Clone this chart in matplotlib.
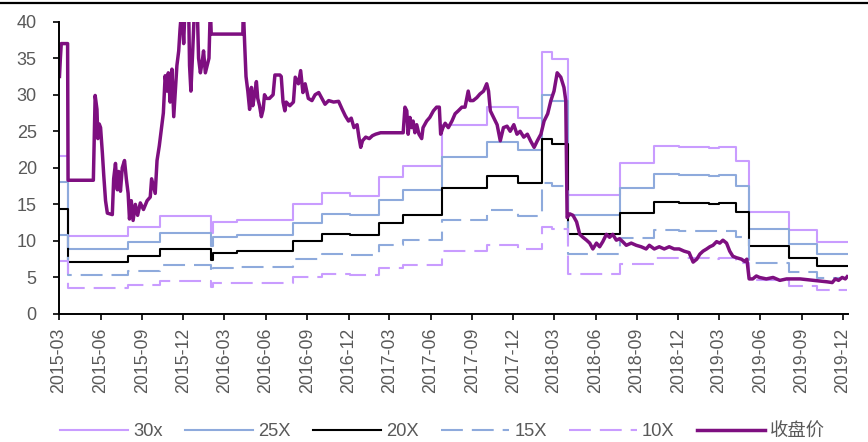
import numpy as np
import pandas as pd
import matplotlib
matplotlib.use("Agg")
import matplotlib.pyplot as plt
import matplotlib.dates as mdates
from matplotlib.lines import Line2D

plt.rcParams['font.family'] = ['Liberation Sans', 'Noto Sans CJK SC', 'DejaVu Sans']

# PE band steps (start date of each level, last date closes the final step)
band_dates = ['2015-03-01', '2015-03-21', '2015-08-01', '2015-10-11', '2016-02-01',
              '2016-02-05', '2016-03-28', '2016-08-01', '2016-10-04', '2016-12-05',
              '2017-02-06', '2017-04-01', '2017-06-25', '2017-10-03', '2017-12-12',
              '2018-02-02', '2018-02-24', '2018-04-01', '2018-07-26', '2018-10-08',
              '2018-12-02', '2019-02-07', '2019-03-01', '2019-04-07', '2019-05-06',
              '2019-08-03', '2019-10-05', '2019-12-10']
pe30 = [21.6, 10.65, 11.85, 13.35, 11.1, 12.6, 12.9, 15.0, 16.5, 16.2, 18.75, 20.25, 25.8,
        28.35, 26.85, 35.85, 34.95, 16.35, 20.7, 22.95, 22.8, 22.65, 22.8, 21.0, 13.95,
        11.55, 9.9]
pe25 = [18.0, 8.9, 9.9, 11.1, 9.25, 10.5, 10.75, 12.5, 13.75, 13.5, 15.6, 16.9, 21.5, 23.6,
        22.4, 29.9, 29.1, 13.6, 17.25, 19.1, 19.0, 18.9, 19.0, 17.5, 11.6, 9.6, 8.25]
pe20 = [14.4, 7.1, 7.9, 8.9, 7.4, 8.4, 8.6, 10.0, 11.0, 10.8, 12.5, 13.5, 17.2, 18.9, 17.9,
        23.9, 23.3, 10.9, 13.8, 15.3, 15.2, 15.1, 15.2, 14.0, 9.3, 7.7, 6.6]
pe15 = [10.8, 5.3, 5.9, 6.7, 5.55, 6.3, 6.45, 7.5, 8.25, 8.1, 9.4, 10.1, 12.9, 14.2, 13.4,
        17.9, 17.5, 8.2, 10.35, 11.5, 11.4, 11.3, 11.4, 10.5, 7.0, 5.8, 4.95]
pe10 = [7.2, 3.55, 3.95, 4.45, 3.7, 4.2, 4.3, 5.0, 5.5, 5.4, 6.25, 6.75, 8.6, 9.45, 8.95,
        11.95, 11.65, 5.45, 6.9, 7.65, 7.6, 7.55, 7.6, 7.0, 4.65, 3.85, 3.3]

close_dates = [
    '2015-03-02', '2015-03-04', '2015-03-06', '2015-03-20', '2015-03-21', '2015-05-16',
    '2015-05-20', '2015-05-24', '2015-05-26', '2015-05-29', '2015-06-01', '2015-06-05',
    '2015-06-08', '2015-06-12', '2015-06-16', '2015-06-27', '2015-06-30', '2015-07-04',
    '2015-07-08', '2015-07-11', '2015-07-15', '2015-07-19', '2015-07-24', '2015-07-28',
    '2015-08-01', '2015-08-04', '2015-08-08', '2015-08-12', '2015-08-17', '2015-08-22',
    '2015-08-28', '2015-09-04', '2015-09-12', '2015-09-19', '2015-09-22', '2015-09-26',
    '2015-09-30', '2015-10-04', '2015-10-09', '2015-10-15', '2015-10-18', '2015-10-22',
    '2015-10-26', '2015-10-29', '2015-11-02', '2015-11-06', '2015-11-10', '2015-11-13',
    '2015-11-17', '2015-11-21', '2015-11-24', '2015-11-28', '2015-12-02', '2015-12-05',
    '2015-12-13', '2015-12-15', '2015-12-18', '2015-12-22', '2015-12-26', '2016-01-01',
    '2016-01-04', '2016-01-08', '2016-01-12', '2016-01-15', '2016-01-19', '2016-01-23',
    '2016-01-27', '2016-01-30', '2016-02-01', '2016-04-11', '2016-04-12', '2016-04-15',
    '2016-04-18', '2016-04-22', '2016-04-26', '2016-04-30', '2016-05-03', '2016-05-07',
    '2016-05-11', '2016-05-14', '2016-05-18', '2016-05-22', '2016-05-26', '2016-05-29',
    '2016-06-02', '2016-06-09', '2016-06-17', '2016-06-21', '2016-07-02', '2016-07-05',
    '2016-07-09', '2016-07-13', '2016-07-16', '2016-07-24', '2016-08-01', '2016-08-05',
    '2016-08-12', '2016-08-17', '2016-08-22', '2016-08-27', '2016-09-03', '2016-09-11',
    '2016-09-18', '2016-09-26', '2016-10-03', '2016-10-10', '2016-10-18', '2016-10-29',
    '2016-11-09', '2016-11-17', '2016-11-24', '2016-12-01', '2016-12-07', '2016-12-13',
    '2016-12-20', '2016-12-24', '2016-12-28', '2017-01-01', '2017-01-08', '2017-01-16',
    '2017-01-23', '2017-01-30', '2017-02-10', '2017-04-01', '2017-04-05', '2017-04-09',
    '2017-04-12', '2017-04-16', '2017-04-20', '2017-04-23', '2017-04-27', '2017-05-01',
    '2017-05-06', '2017-05-12', '2017-05-15', '2017-05-23', '2017-05-30', '2017-06-07',
    '2017-06-14', '2017-06-20', '2017-06-23', '2017-06-28', '2017-07-03', '2017-07-10',
    '2017-07-18', '2017-07-25', '2017-08-01', '2017-08-09', '2017-08-16', '2017-08-23',
    '2017-08-27', '2017-09-03', '2017-09-11', '2017-09-18', '2017-09-26', '2017-10-03',
    '2017-10-07', '2017-10-11', '2017-10-18', '2017-10-26', '2017-11-02', '2017-11-09',
    '2017-11-17', '2017-11-24', '2017-12-02', '2017-12-09', '2017-12-16', '2017-12-24',
    '2018-01-01', '2018-01-08', '2018-01-16', '2018-01-23', '2018-01-31', '2018-02-07',
    '2018-02-15', '2018-02-22', '2018-03-01', '2018-03-08', '2018-03-16', '2018-03-23',
    '2018-03-27', '2018-03-30', '2018-04-05', '2018-04-12', '2018-04-20', '2018-04-27',
    '2018-05-04', '2018-05-12', '2018-05-19', '2018-05-26', '2018-06-03', '2018-06-10',
    '2018-06-17', '2018-06-25', '2018-07-02', '2018-07-09', '2018-07-17', '2018-07-24',
    '2018-07-31', '2018-08-08', '2018-08-19', '2018-08-30', '2018-09-10', '2018-09-21',
    '2018-09-28', '2018-10-09', '2018-10-20', '2018-10-31', '2018-11-11', '2018-11-22',
    '2018-12-03', '2018-12-14', '2018-12-25', '2019-01-03', '2019-01-11', '2019-01-18',
    '2019-01-25', '2019-02-02', '2019-02-09', '2019-02-16', '2019-02-24', '2019-03-03',
    '2019-03-10', '2019-03-18', '2019-03-25', '2019-04-01', '2019-04-09', '2019-04-20',
    '2019-04-27', '2019-05-02', '2019-05-07', '2019-05-15', '2019-05-23', '2019-05-30',
    '2019-06-14', '2019-06-29', '2019-07-14', '2019-07-29', '2019-08-13', '2019-08-28',
    '2019-09-12', '2019-09-27', '2019-10-12', '2019-10-27', '2019-11-07', '2019-11-14',
    '2019-11-21', '2019-11-29', '2019-12-06', '2019-12-10']
close_vals = [
    32.5, 35.0, 37.0, 37.0, 18.3, 18.3,
    29.9, 28.0, 24.0, 26.0, 25.5, 22.0,
    19.0, 15.5, 13.8, 13.6, 18.5, 20.6,
    17.0, 19.5, 16.8, 20.0, 21.0, 18.5,
    16.5, 13.0, 15.5, 12.8, 15.0, 13.5,
    15.2, 14.3, 15.5, 16.0, 18.5, 17.5,
    16.5, 21.0, 23.0, 26.0, 27.5, 32.6,
    30.5, 33.0, 29.0, 33.5, 27.0, 30.0,
    34.0, 36.0, 39.0, 42.0, 37.0, 42.0,
    42.0, 34.0, 30.5, 36.0, 42.0, 42.0,
    35.0, 33.0, 34.5, 36.0, 33.0, 34.0,
    35.0, 42.0, 38.3, 38.3, 42.0, 37.0,
    32.5, 30.5, 28.0, 31.0, 28.5, 30.0,
    31.8, 29.5, 28.5, 27.0, 28.0, 30.0,
    29.5, 29.5, 30.0, 32.7, 32.7, 32.5,
    29.0, 27.8, 29.0, 28.5, 29.0, 32.4,
    31.5, 33.3, 30.3, 31.5, 29.5, 29.2,
    30.0, 30.3, 29.5, 28.7, 29.2, 29.0,
    29.1, 28.0, 27.1, 26.4, 26.8, 25.5,
    25.9, 24.2, 22.8, 23.7, 24.2, 24.0,
    24.4, 24.6, 24.8, 24.8, 28.3, 27.8,
    24.6, 26.9, 25.5, 26.4, 24.8, 25.9,
    24.6, 24.0, 25.5, 26.4, 26.9, 27.8,
    28.3, 28.3, 24.6, 25.5, 26.1, 25.5,
    26.4, 27.4, 27.8, 28.3, 28.3, 30.5,
    29.2, 29.2, 29.6, 30.1, 30.5, 31.5,
    30.5, 27.8, 26.9, 25.9, 23.7, 25.5,
    25.7, 25.0, 25.9, 24.6, 25.0, 24.2,
    24.6, 23.7, 22.8, 23.7, 24.6, 26.4,
    27.4, 29.2, 30.5, 33.0, 32.4, 31.0,
    29.2, 13.2, 13.7, 13.5, 12.6, 10.9,
    10.5, 10.1, 9.7, 8.9, 9.7, 9.2,
    9.9, 10.9, 10.5, 10.9, 10.1, 10.3,
    9.9, 9.4, 9.7, 9.4, 9.2, 8.9,
    9.4, 8.9, 9.2, 8.9, 9.2, 8.9,
    8.9, 8.6, 8.4, 7.1, 7.5, 8.2,
    8.6, 8.9, 9.2, 9.4, 9.9, 9.7,
    10.1, 9.7, 8.6, 7.9, 7.7, 7.5,
    7.2, 7.5, 4.8, 4.8, 5.2, 5.0,
    4.8, 5.0, 4.6, 4.8, 4.8, 4.8,
    4.7, 4.6, 4.5, 4.4, 4.3, 4.8,
    4.6, 5.0, 4.8, 5.1]

purple_light = '#C99CFF'
blue_light = '#8EAADC'
price_col = '#7E0F80'
grey = '#595959'

bd = pd.to_datetime(band_dates)
cd = pd.to_datetime(close_dates)

fig = plt.figure(figsize=(8.68, 4.42), dpi=100)
ax = fig.add_axes([0.068, 0.2896, 0.909, 0.6614])

def ext(v):
    return list(v) + [v[-1]]

ax.plot(bd, ext(pe30), drawstyle='steps-post', color=purple_light, lw=1.5, label='30x')
ax.plot(bd, ext(pe25), drawstyle='steps-post', color=blue_light, lw=1.5, label='25X')
ax.plot(bd, ext(pe20), drawstyle='steps-post', color='black', lw=1.5, label='20X')
ax.plot(bd, ext(pe15), drawstyle='steps-post', color=blue_light, lw=1.5,
        dashes=(10.5, 4.3), label='15X')
ax.plot(bd, ext(pe10), drawstyle='steps-post', color=purple_light, lw=1.5,
        dashes=(10.5, 4.3), label='10X')
ax.plot(cd, close_vals, color=price_col, lw=2.5, label='收盘价', solid_joinstyle='round')

ax.set_ylim(0, 40)
ax.set_yticks(np.arange(0, 41, 5))
ax.set_xlim(pd.Timestamp('2015-03-01'), pd.Timestamp('2019-12-12'))
xt = pd.date_range('2015-03-01', '2019-12-01', freq='3MS')
ax.set_xticks(xt)
ax.xaxis.set_major_formatter(mdates.DateFormatter('%Y-%m'))
plt.setp(ax.get_xticklabels(), rotation=90, ha='center', va='top')

for s in ['top', 'right']:
    ax.spines[s].set_visible(False)
for s in ['left', 'bottom']:
    ax.spines[s].set_linewidth(1.4)
    ax.spines[s].set_color('black')
ax.tick_params(axis='y', direction='out', length=4, width=1.2, pad=12,
               labelsize=13, labelcolor=grey)
ax.tick_params(axis='x', direction='out', length=4, width=1.2, pad=6,
               labelsize=12.8, labelcolor=grey)

leg = fig.legend(*ax.get_legend_handles_labels(), loc='center', ncol=6,
                 bbox_to_anchor=(0.51, 0.023), frameon=False, fontsize=13.2,
                 handlelength=3.7, handletextpad=0.3, columnspacing=1.2)
for t in leg.get_texts():
    t.set_color(grey)

# black rule along the top edge
fig.add_artist(Line2D([0, 1], [0.994, 0.994], transform=fig.transFigure,
                      color='black', lw=1.6))

fig.savefig('out.png', dpi=100)
